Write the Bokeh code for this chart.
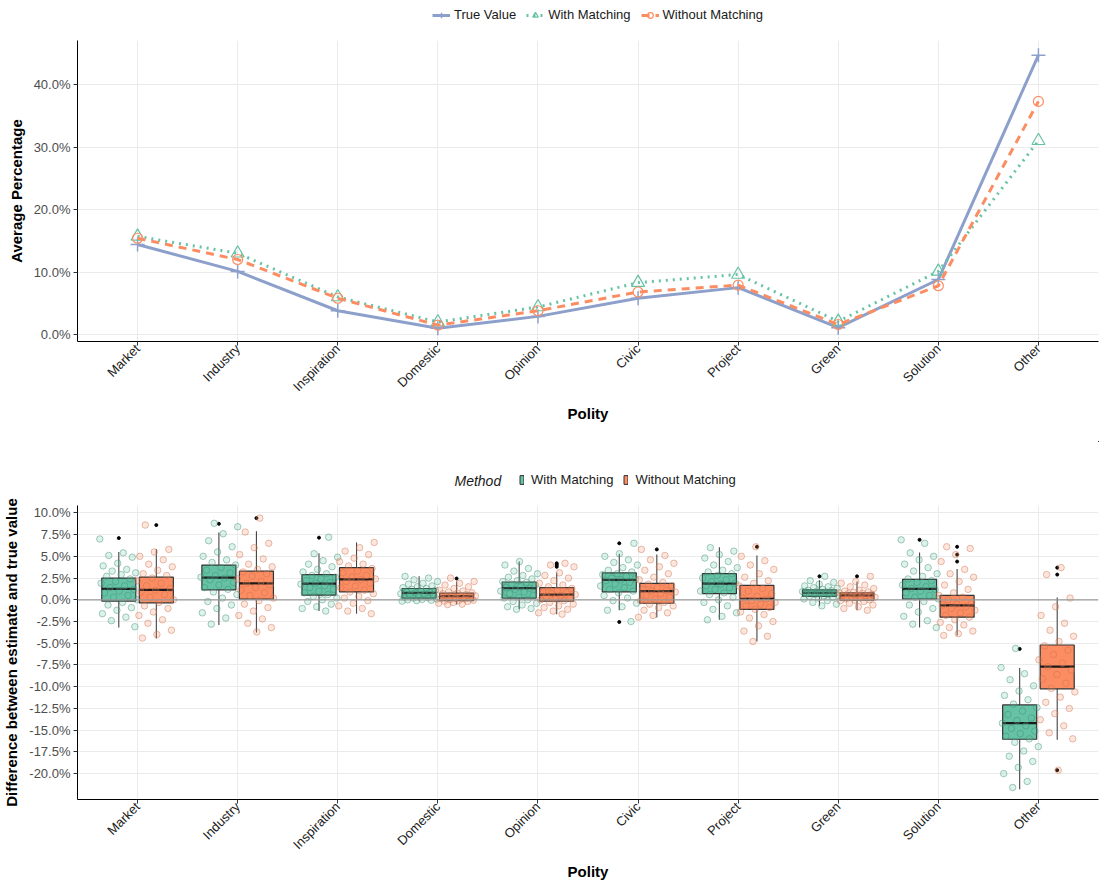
from math import pi
from bokeh.plotting import figure
from bokeh.models import (Legend, LegendItem, PrintfTickFormatter, FixedTicker,
                          Span, Range1d, Label)
from bokeh.layouts import column
from bokeh.embed import file_html
from bokeh.resources import INLINE

# ---------------- data ----------------
polity = ["Market", "Industry", "Inspiration", "Domestic", "Opinion",
          "Civic", "Project", "Green", "Solution", "Other"]

# top panel: average percentage (in %)
true_value = [14.4, 10.1, 3.8, 1.0, 2.9, 5.8, 7.5, 1.1, 8.8, 44.7]
with_matching = [15.7, 13.0, 6.0, 2.0, 4.4, 8.3, 9.6, 2.1, 10.1, 31.0]
without_matching = [15.4, 12.0, 5.8, 1.5, 3.8, 6.8, 7.9, 1.6, 7.8, 37.3]
top_y_ticks = [0, 10, 20, 30, 40]

# bottom panel: box statistics (difference estimate - true value, in %)
wm_q1 = [-0.15, 1.15, 0.53, 0.2, 0.2, 0.9, 0.7, 0.4, 0.08, -16.05]
wm_med = [1.25, 2.55, 1.85, 0.8, 1.35, 2.3, 1.85, 0.8, 1.25, -14.2]
wm_q3 = [2.5, 4.0, 2.9, 1.3, 2.05, 3.1, 3.0, 1.15, 2.35, -12.1]
wm_lo = [-3.2, -2.9, -1.3, -0.15, -1.1, -1.2, -2.3, -0.7, -3.2, -21.8]
wm_hi = [5.5, 7.75, 5.35, 2.7, 4.4, 5.3, 6.05, 2.25, 5.45, -7.85]
wm_out_cat = [0, 1, 2, 5, 5, 7, 8, 9]
wm_out_val = [7.1, 8.75, 7.15, 6.5, -2.55, 2.7, 6.9, -5.65]

wo_q1 = [-0.35, 0.08, 0.9, -0.1, -0.15, -0.4, -1.1, -0.05, -2.0, -10.25]
wo_med = [1.15, 1.9, 2.35, 0.42, 0.6, 1.0, 0.1, 0.5, -0.65, -7.7]
wo_q3 = [2.6, 3.3, 3.7, 0.76, 1.4, 1.9, 1.65, 0.8, 0.5, -5.2]
wo_lo = [-4.45, -3.75, -1.6, -0.55, -1.65, -2.05, -4.8, -1.2, -4.1, -16.1]
wo_hi = [5.85, 7.9, 6.6, 2.1, 3.15, 5.2, 5.1, 2.1, 3.55, 0.25]
wo_out_cat = [0, 1, 3, 4, 4, 4, 5, 6, 7, 8, 8, 8, 9, 9, 9]
wo_out_val = [8.6, 9.4, 2.45, 4.2, 4.0, 3.8, 5.8, 6.1, 2.7, 6.1, 5.2, 4.4, 3.7, 2.9, -19.6]

# individual simulation results (approximate readings)
market_with = [7.0, 5.4, 5.1, 4.9, 4.2, 3.9, 3.5, 3.3, 3.1, 2.9, 2.7, 2.4, 2.1, 1.9, 1.6,
               1.4, 1.2, 1.0, 0.8, 0.5, 0.3, 0.0, -0.3, -0.6, -0.9, -1.2, -1.6, -2.0, -2.4, -3.1]
market_without = [8.6, 5.8, 5.5, 5.0, 4.6, 4.1, 3.8, 3.4, 3.0, 2.8, 2.5, 2.2, 1.9, 1.6, 1.3,
                  1.1, 0.9, 0.6, 0.3, 0.0, -0.3, -0.7, -1.0, -1.4, -1.8, -2.3, -2.7, -3.5, -4.0, -4.4]
industry_with = [8.8, 8.4, 7.6, 6.8, 6.1, 5.5, 5.0, 4.6, 4.3, 4.0, 3.7, 3.4, 3.1, 2.8, 2.6,
                 2.5, 2.3, 2.0, 1.7, 1.4, 1.2, 0.9, 0.6, 0.2, -0.2, -0.6, -1.0, -1.5, -2.1, -2.8]
industry_without = [9.4, 7.8, 6.5, 6.0, 5.2, 4.7, 4.1, 3.8, 3.5, 3.2, 3.0, 2.7, 2.4, 2.1, 1.9,
                    1.7, 1.4, 1.1, 0.8, 0.5, 0.2, -0.1, -0.5, -0.9, -1.3, -1.8, -2.2, -2.7, -3.2, -3.7]
inspiration_with = [7.2, 5.3, 4.9, 4.5, 4.1, 3.8, 3.5, 3.2, 3.0, 2.8, 2.6, 2.4, 2.2, 2.0, 1.9,
                    1.8, 1.6, 1.4, 1.2, 1.0, 0.8, 0.6, 0.4, 0.2, 0.0, -0.2, -0.5, -0.8, -1.0, -1.3]
inspiration_without = [6.6, 6.0, 5.6, 5.2, 4.8, 4.4, 4.1, 3.9, 3.6, 3.3, 3.1, 2.8, 2.6, 2.4, 2.3,
                       2.1, 1.9, 1.6, 1.4, 1.1, 0.9, 0.7, 0.4, 0.2, -0.1, -0.4, -0.7, -1.0, -1.3, -1.6]
domestic_with = [2.7, 2.5, 2.3, 2.1, 1.9, 1.8, 1.6, 1.5, 1.4, 1.3, 1.2, 1.1, 1.0, 0.9, 0.85,
                 0.8, 0.7, 0.6, 0.5, 0.45, 0.4, 0.3, 0.25, 0.2, 0.1, 0.05, 0.0, -0.05, -0.1, -0.15]
domestic_without = [2.5, 2.1, 1.9, 1.7, 1.5, 1.3, 1.1, 1.0, 0.9, 0.8, 0.75, 0.7, 0.6, 0.5, 0.45,
                    0.4, 0.35, 0.3, 0.2, 0.15, 0.1, 0.0, -0.05, -0.1, -0.15, -0.2, -0.3, -0.4, -0.5, -0.55]
opinion_with = [4.4, 4.0, 3.6, 3.3, 3.0, 2.8, 2.6, 2.4, 2.2, 2.1, 2.0, 1.8, 1.7, 1.5, 1.4,
                1.3, 1.2, 1.0, 0.9, 0.7, 0.5, 0.3, 0.2, 0.0, -0.2, -0.4, -0.6, -0.8, -1.0, -1.1]
opinion_without = [4.2, 4.0, 3.8, 3.1, 2.8, 2.5, 2.2, 1.9, 1.7, 1.5, 1.3, 1.1, 0.9, 0.8, 0.7,
                   0.6, 0.5, 0.4, 0.2, 0.1, 0.0, -0.1, -0.3, -0.5, -0.7, -0.9, -1.1, -1.3, -1.5, -1.65]
civic_with = [6.5, 5.3, 5.0, 4.6, 4.3, 4.0, 3.7, 3.4, 3.2, 3.0, 2.9, 2.7, 2.5, 2.4, 2.3,
              2.2, 2.0, 1.8, 1.6, 1.4, 1.2, 1.0, 0.8, 0.5, 0.2, -0.1, -0.4, -0.8, -1.2, -2.5]
civic_without = [5.8, 5.1, 4.6, 4.2, 3.8, 3.4, 3.0, 2.6, 2.3, 2.0, 1.8, 1.6, 1.4, 1.2, 1.1,
                 1.0, 0.9, 0.7, 0.5, 0.3, 0.1, -0.1, -0.3, -0.5, -0.7, -0.9, -1.2, -1.5, -1.8, -2.0]
project_with = [6.0, 5.6, 5.2, 4.8, 4.4, 4.0, 3.7, 3.4, 3.2, 3.0, 2.8, 2.5, 2.3, 2.1, 1.9,
                1.8, 1.6, 1.4, 1.2, 1.0, 0.8, 0.6, 0.3, 0.0, -0.3, -0.7, -1.1, -1.5, -1.9, -2.3]
project_without = [6.1, 5.0, 4.5, 4.0, 3.5, 3.0, 2.6, 2.2, 1.9, 1.6, 1.3, 1.0, 0.7, 0.4, 0.2,
                   0.1, -0.1, -0.3, -0.5, -0.7, -0.9, -1.1, -1.4, -1.7, -2.1, -2.5, -3.0, -3.6, -4.2, -4.8]
green_with = [2.7, 2.2, 2.0, 1.8, 1.6, 1.5, 1.4, 1.3, 1.2, 1.1, 1.05, 1.0, 0.95, 0.9, 0.85,
              0.8, 0.75, 0.7, 0.65, 0.6, 0.5, 0.45, 0.4, 0.3, 0.2, 0.1, -0.1, -0.3, -0.5, -0.7]
green_without = [2.7, 2.1, 1.9, 1.7, 1.5, 1.3, 1.1, 1.0, 0.9, 0.85, 0.8, 0.75, 0.7, 0.6, 0.55,
                 0.5, 0.45, 0.4, 0.3, 0.2, 0.1, 0.0, -0.05, -0.1, -0.2, -0.4, -0.6, -0.8, -1.0, -1.2]
solution_with = [6.9, 6.5, 5.4, 5.0, 4.6, 4.1, 3.7, 3.3, 3.0, 2.7, 2.4, 2.2, 2.0, 1.7, 1.5,
                 1.3, 1.2, 1.0, 0.8, 0.5, 0.3, 0.1, -0.2, -0.6, -1.0, -1.4, -1.9, -2.4, -2.8, -3.2]
solution_without = [6.1, 5.9, 5.2, 4.4, 3.5, 3.0, 2.6, 2.1, 1.7, 1.2, 0.8, 0.5, 0.3, 0.0, -0.3,
                    -0.5, -0.6, -0.8, -1.0, -1.2, -1.5, -1.8, -2.0, -2.3, -2.6, -2.9, -3.2, -3.6, -3.9, -4.1]
other_with = [-5.6, -7.8, -8.5, -9.2, -9.9, -10.5, -11.0, -11.5, -12.0, -12.4, -12.8, -13.2, -13.6, -13.9, -14.2,
              -14.5, -14.8, -15.1, -15.4, -15.7, -16.0, -16.4, -16.9, -17.4, -18.0, -18.6, -19.3, -20.0, -20.9, -21.6]
other_without = [3.7, 2.9, 0.2, -0.8, -1.8, -2.7, -3.5, -4.2, -4.8, -5.3, -5.8, -6.3, -6.9, -7.3, -7.7,
                 -8.1, -8.6, -9.1, -9.6, -10.2, -10.6, -11.2, -11.8, -12.5, -13.1, -13.8, -14.5, -15.3, -16.0, -19.6]

bottom_y_ticks = [-20, -17.5, -15, -12.5, -10, -7.5, -5, -2.5, 0, 2.5, 5, 7.5, 10]

with_points = [market_with, industry_with, inspiration_with, domestic_with, opinion_with,
               civic_with, project_with, green_with, solution_with, other_with]
without_points = [market_without, industry_without, inspiration_without, domestic_without,
                  opinion_without, civic_without, project_without, green_without,
                  solution_without, other_without]

# ---------------- style ----------------
FONT = "Liberation Sans"
C_TRUE = "#8da0cb"
C_WITH = "#66c2a5"
C_WITHOUT = "#fc8d62"
GRID = "#ebebeb"
W = 1100

xs = list(range(1, len(polity) + 1))
labels = {i: name for i, name in zip(xs, polity)}


def style_axes(p, yticks, ylabel):
    p.xaxis.ticker = FixedTicker(ticks=xs)
    p.xaxis.major_label_overrides = labels
    p.xaxis.major_label_orientation = pi / 4
    p.yaxis.ticker = FixedTicker(ticks=yticks)
    p.yaxis.formatter = PrintfTickFormatter(format="%.1f%%")
    for ax in (p.xaxis[0], p.yaxis[0]):
        ax.axis_line_color = "black"
        ax.axis_line_width = 1
        ax.major_tick_line_color = "#333333"
        ax.major_tick_out = 4
        ax.major_tick_in = 0
        ax.minor_tick_line_color = None
        ax.major_label_text_font = FONT
        ax.major_label_text_font_size = "13px"
        ax.major_label_text_color = "#4d4d4d"
        ax.axis_label_text_font = FONT
        ax.axis_label_text_font_size = "15px"
        ax.axis_label_text_font_style = "bold"
        ax.axis_label_text_color = "black"
        ax.major_label_standoff = 3
    p.xaxis.major_label_text_color = "#222222"
    p.xaxis.major_label_standoff = 1
    p.xaxis.axis_label = "Polity"
    p.xaxis.axis_label_standoff = 2
    p.yaxis.axis_label = ylabel
    p.yaxis.axis_label_standoff = 6
    p.xgrid.grid_line_color = GRID
    p.ygrid.grid_line_color = GRID
    p.xgrid.grid_line_width = 1
    p.ygrid.grid_line_width = 1
    p.outline_line_color = None
    p.background_fill_color = "white"


def legend_figure(h):
    # strip holding only a legend; its ranges keep the key renderers out of view
    f = figure(width=W, height=h, x_range=Range1d(-3, -2), y_range=Range1d(-3, -2),
               output_backend="svg", toolbar_location=None,
               x_axis_location=None, y_axis_location=None,
               min_border_left=0, min_border_right=0, min_border_top=0, min_border_bottom=0)
    f.xgrid.visible = False
    f.ygrid.visible = False
    f.outline_line_color = None
    return f


def style_legend(leg):
    leg.label_text_font = FONT
    leg.label_text_font_size = "13px"
    leg.label_text_color = "#1a1a1a"
    leg.border_line_color = None
    leg.background_fill_alpha = 0
    leg.spacing = 10
    leg.padding = 0
    leg.margin = 0
    leg.orientation = "horizontal"


# ---------------- top legend ----------------
lt = legend_figure(34)
k_true_l = lt.line(xs, true_value, line_color=C_TRUE, line_width=3)
k_true_s = lt.scatter(xs, true_value, marker="cross", size=14, line_color=C_TRUE, line_width=1.5)
k_with_l = lt.line(xs, with_matching, line_color=C_WITH, line_width=3, line_dash="2 5")
k_with_s = lt.scatter(xs, with_matching, marker="triangle", size=13, fill_color=None,
                      line_color=C_WITH, line_width=1.2)
k_wo_l = lt.line(xs, without_matching, line_color=C_WITHOUT, line_width=3, line_dash="8 6")
k_wo_s = lt.scatter(xs, without_matching, marker="circle", size=10, fill_color=None,
                    line_color=C_WITHOUT, line_width=1.2)
leg_top = Legend(items=[
    LegendItem(label="True Value", renderers=[k_true_l, k_true_s]),
    LegendItem(label="With Matching", renderers=[k_with_l, k_with_s]),
    LegendItem(label="Without Matching", renderers=[k_wo_l, k_wo_s]),
], location=(355, 12))
style_legend(leg_top)
leg_top.glyph_width = 18
leg_top.glyph_height = 14
leg_top.label_standoff = 4
leg_top.label_height = 14
lt.add_layout(leg_top, "center")

# ---------------- top panel ----------------
top = figure(width=W, height=407,
             x_range=Range1d(0.4, 10.6), y_range=Range1d(-1.12, 47.04),
             output_backend="svg", toolbar_location=None,
             min_border_left=70, min_border_right=2,
             min_border_top=6, min_border_bottom=100)
style_axes(top, top_y_ticks, "Average Percentage")

top.line(xs, true_value, line_color=C_TRUE, line_width=3)
top.scatter(xs, true_value, marker="cross", size=14, line_color=C_TRUE, line_width=1.5)
top.line(xs, with_matching, line_color=C_WITH, line_width=3, line_dash="2 5")
top.scatter(xs, with_matching, marker="triangle", size=13, fill_color=None,
            line_color=C_WITH, line_width=1.2)
top.line(xs, without_matching, line_color=C_WITHOUT, line_width=3, line_dash="8 6")
top.scatter(xs, without_matching, marker="circle", size=10, fill_color=None,
            line_color=C_WITHOUT, line_width=1.2)

# ---------------- bottom legend ----------------
lb = legend_figure(50)
k_box_w = lb.vbar(x=xs, top=wm_q3, bottom=wm_q1, width=0.1, fill_color=C_WITH,
                  line_color="#333333", line_width=1)
k_box_o = lb.vbar(x=xs, top=wo_q3, bottom=wo_q1, width=0.1, fill_color=C_WITHOUT,
                  line_color="#333333", line_width=1)
leg_bot = Legend(items=[
    LegendItem(label="With Matching", renderers=[k_box_w]),
    LegendItem(label="Without Matching", renderers=[k_box_o]),
], location=(442, 4))
style_legend(leg_bot)
leg_bot.glyph_width = 5
leg_bot.glyph_height = 11
leg_bot.label_standoff = 7
leg_bot.label_height = 14
lb.add_layout(leg_bot, "center")
lb.add_layout(Label(x=377, y=11, x_units="screen", y_units="screen", text="Method",
                    text_font=FONT, text_font_size="14px", text_font_style="italic",
                    text_color="#1a1a1a", text_baseline="middle"))

# ---------------- bottom panel ----------------
bot = figure(width=W, height=391,
             x_range=Range1d(0.4, 10.6), y_range=Range1d(-22.98, 10.85),
             output_backend="svg", toolbar_location=None,
             min_border_left=74, min_border_right=2,
             min_border_top=14, min_border_bottom=80)
style_axes(bot, bottom_y_ticks, "Difference between estimate and true value")

DODGE = 0.1875
BOXW = 0.34
JIT = 0.19

for sign, color, q1, med, q3, lo, hi, oc, ov, pts in [
        (-1, C_WITH, wm_q1, wm_med, wm_q3, wm_lo, wm_hi, wm_out_cat, wm_out_val, with_points),
        (1, C_WITHOUT, wo_q1, wo_med, wo_q3, wo_lo, wo_hi, wo_out_cat, wo_out_val, without_points)]:
    cx = [x + sign * DODGE for x in xs]
    bot.segment(x0=cx, x1=cx, y0=q3, y1=hi, line_color="#444444", line_width=1.1)
    bot.segment(x0=cx, x1=cx, y0=q1, y1=lo, line_color="#444444", line_width=1.1)
    bot.vbar(x=cx, top=q3, bottom=q1, width=BOXW, fill_color=color,
             line_color="#333333", line_width=1.2)
    bot.segment(x0=[c - BOXW / 2 for c in cx], x1=[c + BOXW / 2 for c in cx],
                y0=med, y1=med, line_color="#1a1a1a", line_width=2.2)
    bot.scatter([xs[i] + sign * DODGE for i in oc], ov, marker="circle", size=3,
                fill_color="black", line_color="black")
    px, py = [], []
    for g, vals in enumerate(pts):
        for i, v in enumerate(vals):
            frac = (i * 0.6180339887 + g * 0.377 + (0.21 if sign > 0 else 0.0)) % 1.0
            px.append(cx[g] + (frac - 0.5) * 2 * JIT)
            py.append(v)
    dark = "#3f8f73" if sign < 0 else "#c9714f"
    bot.scatter(px, py, marker="circle", size=6.5, fill_color=color, fill_alpha=0.22,
                line_color=dark, line_alpha=0.45, line_width=1)

bot.add_layout(Span(location=0, dimension="width", line_color="#9a9a9a", line_width=1.2))

layout = column(lt, top, lb, bot, spacing=0)
open("out.html", "w").write(file_html(layout, INLINE))
